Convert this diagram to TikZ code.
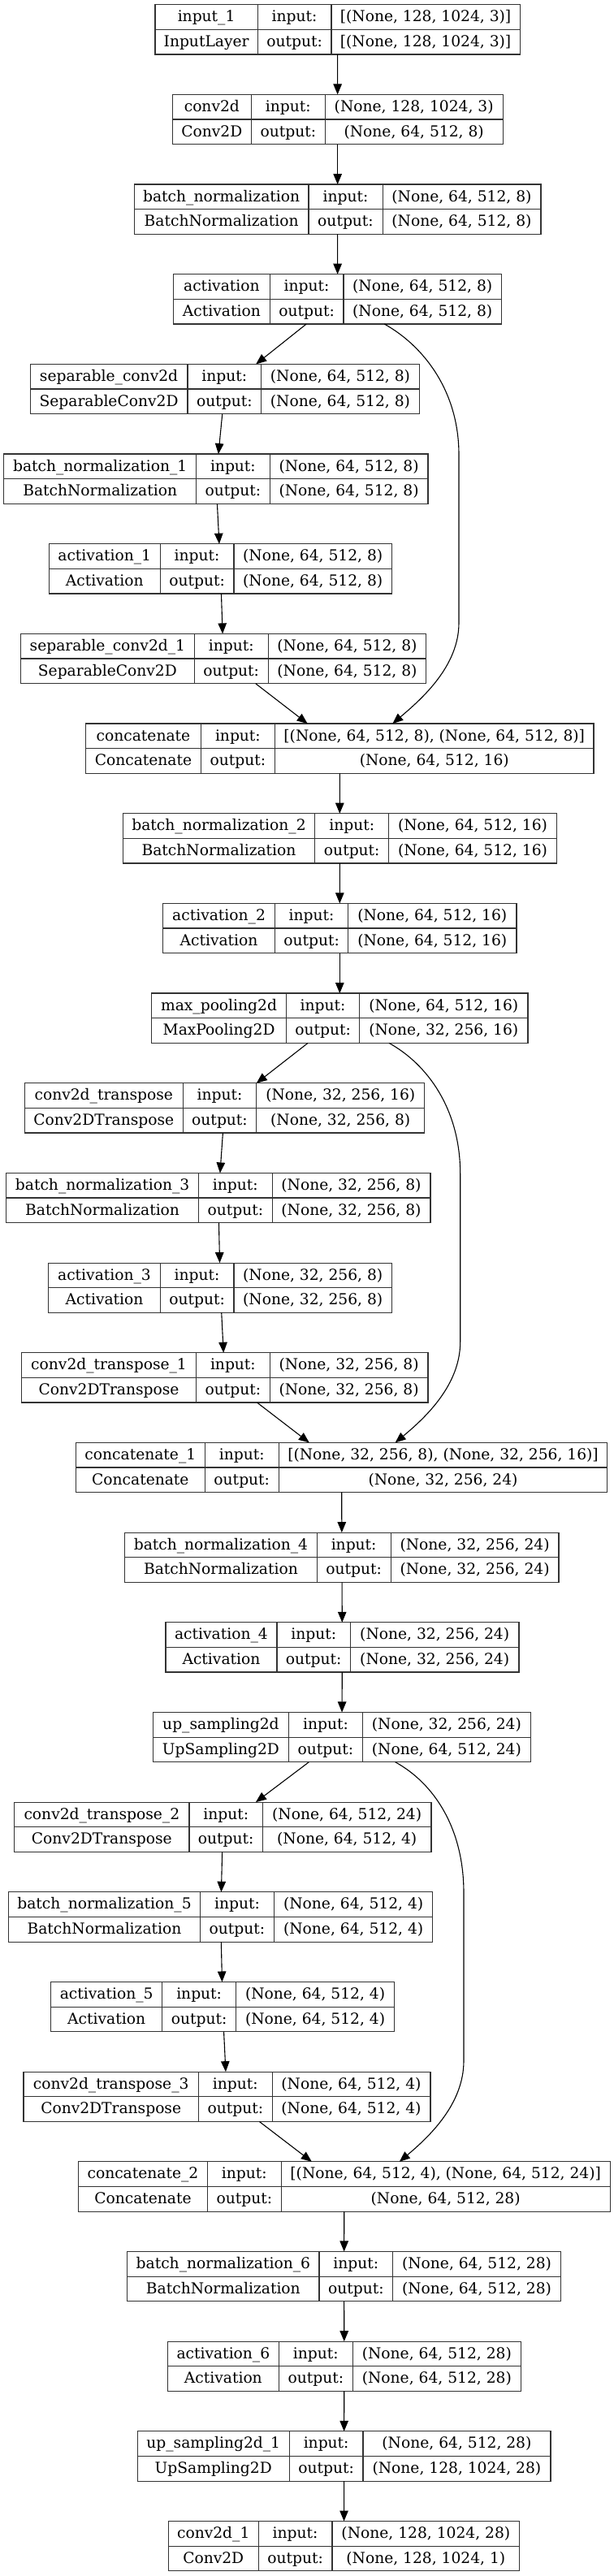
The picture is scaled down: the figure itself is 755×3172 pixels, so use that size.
\documentclass[tikz,border=0pt]{standalone}
\usepackage{fontspec}
\setmainfont{DejaVu Serif}
\usetikzlibrary{arrows.meta,calc}
\tikzset{
  box/.style={draw=black!80, line width=1.2pt, inner sep=0pt, outer sep=0pt, minimum height=61.3pt, rectangle},
  grid/.style={draw=black!80, line width=1.2pt},
  txt/.style={anchor=base, inner sep=0pt, outer sep=0pt, font=\fontsize{18.67}{22}\selectfont},
  arr/.style={-{Triangle[length=13pt,width=10.5pt]}, line width=1.1pt, black},
}
\newcommand\lay[9]{%
  \pgfmathsetmacro\T{5.7+110.67*#2}%
  \node[box, minimum width={#6pt-#3pt}, anchor=north west] (#1) at (#3,\T) {};
  \draw[grid] (#4,\T) -- ++(0,61.3) (#5,\T) -- ++(0,61.3) (#1.west) -- (#1.east);
  \node[txt] (#1-n) at ({(#3+#4)/2},\T+21.1) {#7};
  \node[txt] (#1-c) at ({(#3+#4)/2},\T+51.8) {#8};
  \node[txt] (#1-il) at ({(#4+#5)/2},\T+21.1) {input:};
  \node[txt] (#1-ol) at ({(#4+#5)/2},\T+51.8) {output:};
  \node[txt] (#1-i) at ({(#5+#6)/2},\T+21.1) {#9};
  \pgfmathsetmacro\Lx{(#5+#6)/2}%
  \def\Lid{#1}%
  \layoutshape}
\newcommand\layoutshape[1]{\node[txt] (\Lid-o) at (\Lx,\T+51.8) {#1};}
\begin{document}
\begin{tikzpicture}[x=1pt,y=-1pt]
\useasboundingbox (0,0) rectangle (755,3172);
\lay{in1}{0}{190.9}{317.3}{407.9}{640.3}{input\_1}{InputLayer}{[(None, 128, 1024, 3)]}{[(None, 128, 1024, 3)]}
\lay{c2d}{1}{212.2}{309.5}{400.2}{619.1}{conv2d}{Conv2D}{(None, 128, 1024, 3)}{(None, 64, 512, 8)}
\lay{bn}{2}{165.4}{379.9}{471.1}{665.9}{batch\_normalization}{BatchNormalization}{(None, 64, 512, 8)}{(None, 64, 512, 8)}
\lay{act}{3}{213.6}{332.2}{422.9}{617.6}{activation}{Activation}{(None, 64, 512, 8)}{(None, 64, 512, 8)}
\lay{sep}{4}{37.1}{231}{321.6}{516.4}{separable\_conv2d}{SeparableConv2D}{(None, 64, 512, 8)}{(None, 64, 512, 8)}
\lay{bna}{5}{4.8}{241.6}{332.2}{527}{batch\_normalization\_1}{BatchNormalization}{(None, 64, 512, 8)}{(None, 64, 512, 8)}
\lay{acta}{6}{60.3}{197.2}{287.9}{482.6}{activation\_1}{Activation}{(None, 64, 512, 8)}{(None, 64, 512, 8)}
\lay{sepa}{7}{25.6}{239.2}{330.3}{524.6}{separable\_conv2d\_1}{SeparableConv2D}{(None, 64, 512, 8)}{(None, 64, 512, 8)}
\lay{cat}{8}{105.6}{247.3}{338.5}{731}{concatenate}{Concatenate}{[(None, 64, 512, 8), (None, 64, 512, 8)]}{(None, 64, 512, 16)}
\lay{bnb}{9}{151.4}{387.7}{478.8}{685.2}{batch\_normalization\_2}{BatchNormalization}{(None, 64, 512, 16)}{(None, 64, 512, 16)}
\lay{actb}{10}{200.6}{338.5}{428.6}{636}{activation\_2}{Activation}{(None, 64, 512, 16)}{(None, 64, 512, 16)}
\lay{mp}{11}{186.6}{352.5}{442.6}{650}{max\_pooling2d}{MaxPooling2D}{(None, 64, 512, 16)}{(None, 32, 256, 16)}
\lay{ct}{12}{30.4}{225.2}{315.8}{522.7}{conv2d\_transpose}{Conv2DTranspose}{(None, 32, 256, 16)}{(None, 32, 256, 8)}
\lay{bnc}{13}{7.7}{244.5}{335.1}{529.9}{batch\_normalization\_3}{BatchNormalization}{(None, 32, 256, 8)}{(None, 32, 256, 8)}
\lay{actc}{14}{59.8}{197.2}{287.9}{482.6}{activation\_3}{Activation}{(None, 32, 256, 8)}{(None, 32, 256, 8)}
\lay{cta}{15}{26.5}{241.6}{332.2}{527}{conv2d\_transpose\_1}{Conv2DTranspose}{(None, 32, 256, 8)}{(None, 32, 256, 8)}
\lay{cata}{16}{93.5}{252.2}{343.3}{747.8}{concatenate\_1}{Concatenate}{[(None, 32, 256, 8), (None, 32, 256, 16)]}{(None, 32, 256, 24)}
\lay{bnd}{17}{153.8}{390.1}{481.2}{688}{batch\_normalization\_4}{BatchNormalization}{(None, 32, 256, 24)}{(None, 32, 256, 24)}
\lay{actd}{18}{204}{340.9}{431.5}{638.9}{activation\_4}{Activation}{(None, 32, 256, 24)}{(None, 32, 256, 24)}
\lay{up}{19}{188.5}{355.4}{446.5}{653.3}{up\_sampling2d}{UpSampling2D}{(None, 32, 256, 24)}{(None, 64, 512, 24)}
\lay{ctb}{20}{17.8}{232.9}{323.5}{530.9}{conv2d\_transpose\_2}{Conv2DTranspose}{(None, 64, 512, 24)}{(None, 64, 512, 4)}
\lay{bne}{21}{10.6}{246.4}{337.5}{532.8}{batch\_normalization\_5}{BatchNormalization}{(None, 64, 512, 4)}{(None, 64, 512, 4)}
\lay{acte}{22}{62.7}{199.6}{290.7}{485.5}{activation\_5}{Activation}{(None, 64, 512, 4)}{(None, 64, 512, 4)}
\lay{ctc}{23}{28.9}{244.5}{335.1}{529.9}{conv2d\_transpose\_3}{Conv2DTranspose}{(None, 64, 512, 4)}{(None, 64, 512, 4)}
\lay{catb}{24}{96.4}{255.5}{346.2}{751.2}{concatenate\_2}{Concatenate}{[(None, 64, 512, 4), (None, 64, 512, 24)]}{(None, 64, 512, 28)}
\lay{bnf}{25}{156.7}{393}{483.6}{690.5}{batch\_normalization\_6}{BatchNormalization}{(None, 64, 512, 28)}{(None, 64, 512, 28)}
\lay{actf}{26}{206.4}{343.3}{434.4}{641.3}{activation\_6}{Activation}{(None, 64, 512, 28)}{(None, 64, 512, 28)}
\lay{upa}{27}{169.2}{356.3}{447}{677.9}{up\_sampling2d\_1}{UpSampling2D}{(None, 64, 512, 28)}{(None, 128, 1024, 28)}
\lay{c2da}{28}{207.3}{318.2}{408.9}{639.8}{conv2d\_1}{Conv2D}{(None, 128, 1024, 28)}{(None, 128, 1024, 1)}
% straight connectors
\foreach \a/\b in {in1/c2d, c2d/bn, bn/act, act/sep, sep/bna, bna/acta, acta/sepa, sepa/cat,
  cat/bnb, bnb/actb, actb/mp, mp/ct, ct/bnc, bnc/actc, actc/cta, cta/cata,
  cata/bnd, bnd/actd, actd/up, up/ctb, ctb/bne, bne/acte, acte/ctc, ctc/catb,
  catb/bnf, bnf/actf, actf/upa, upa/c2da}
  \draw[arr] (\a) -- (\b);
% skip connectors
\draw[arr] ($(act.south)+(57.7,0)$) .. controls (520,425) and (565,480) .. (565,560)
  -- (565,767) .. controls (565,820) and (520,860) .. ($(cat.north)+(65,0)$);
\draw[arr] ($(mp.south)+(60.7,0)$) .. controls (526,1310.4) and (566.7,1365.4) .. (566.7,1445.4)
  -- (566.7,1652.4) .. controls (566.7,1705.4) and (524,1745.4) .. ($(cata.north)+(66,0)$);
\draw[arr] ($(up.south)+(65.8,0)$) .. controls (534,2195.7) and (571,2250.7) .. (571,2330.7)
  -- (571,2537.7) .. controls (571,2590.7) and (528.8,2630.7) .. ($(catb.north)+(68,0)$);
\end{tikzpicture}
\end{document}
